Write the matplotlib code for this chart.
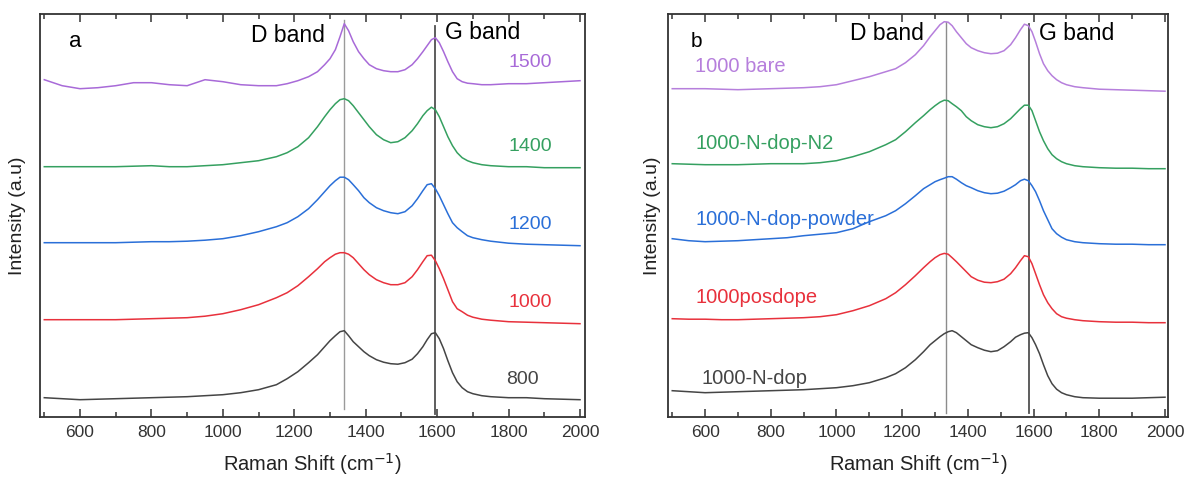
import matplotlib
matplotlib.use("Agg")
import matplotlib.pyplot as plt
from matplotlib.ticker import MultipleLocator

plt.rcParams["font.family"] = ["Liberation Sans", "DejaVu Sans"]

# Raman shift grid (cm^-1) shared by every spectrum
wavenumber = [500, 550, 600, 650, 700, 750, 800, 850, 900, 950, 1000, 1050, 1100,
              1150, 1180, 1210, 1240, 1265, 1285, 1300, 1315, 1328, 1340, 1352,
              1365, 1380, 1395, 1410, 1430, 1450, 1470, 1490, 1510, 1530, 1545,
              1560, 1572, 1584, 1595, 1606, 1618, 1630, 1643, 1656, 1670, 1685,
              1700, 1725, 1750, 1800, 1850, 1900, 1950, 2000]

# ---------------- panel a: annealing temperature series (offset, a.u.) ----------------
a_1500 = [337, 331, 328, 329, 331, 334, 334, 332, 331, 337, 335, 332, 331,
          331, 333, 336, 340, 345, 352, 358, 367, 380, 393, 386,
          375, 365, 358, 352, 348, 346, 345, 345, 347, 352, 358,
          365, 371, 377, 379, 374, 365, 355, 345, 338, 335, 333.5,
          333, 332, 332, 333, 333, 334, 335, 336]
a_1400 = [250, 250, 250, 250, 250, 250.5, 251, 250, 250, 251, 252, 254, 256,
          260, 264, 270, 279, 290, 300, 307, 313, 317, 318, 316,
          311, 304, 297, 290, 282, 277, 274, 275, 279, 286, 293,
          301, 306, 309.5, 307, 300, 290, 280, 271, 264, 259, 256,
          254, 252, 251, 250, 250, 249, 249, 249]
a_1200 = [174, 174, 174, 174, 174, 174.5, 175, 175, 175.5, 176.5, 178, 181, 185,
          190, 194, 200, 208, 217, 225, 231, 236, 239.5, 239.5, 237,
          232, 226, 219, 214, 209, 206, 204, 203, 205, 211, 218,
          226, 232, 233, 228, 221, 212, 203, 194, 189, 185, 181,
          179, 177, 175.5, 173.5, 172.5, 172, 171.5, 171]
a_1000 = [97, 97, 97, 97, 97, 97.5, 98, 98.5, 99, 100.5, 103, 107, 112,
          119, 124, 131, 140, 148, 155, 159, 162.5, 164, 164, 162.5,
          159, 153, 147, 142, 137, 134, 132, 132, 134, 140, 147,
          155, 161, 161.5, 156, 148, 138, 127, 115, 108, 105, 101.5,
          99.5, 97.5, 96.5, 95, 94.5, 94, 93.5, 93]
a_800 = [19, 18, 17, 17.5, 18, 18.5, 19, 19.5, 20, 21, 22, 24, 27,
         32, 38, 45, 54, 62, 70, 76, 81, 85, 86, 81,
         75, 70, 65, 61, 57, 54.5, 53, 52.5, 54, 57.5, 63,
         70, 77, 83, 84, 78, 68, 56, 44, 35, 29, 25,
         23, 21, 20, 19, 19, 18, 17.5, 17]

series_a = [a_1500, a_1400, a_1200, a_1000, a_800]
labels_a = ["1500", "1400", "1200", "1000", "800"]
colors_a = ["#a86ad8", "#35a060", "#2a6fd8", "#e8313c", "#454545"]
label_x_a = [1860, 1860, 1860, 1860, 1840]
label_y_a = [354, 270, 192, 114, 37]

d_band_a, g_band_a = 1340, 1595

# ---------------- panel b: doping series at 1000 (offset, a.u.) ----------------
b_bare = [328, 328, 328, 327.5, 327, 327.5, 328, 328.5, 329, 330, 332, 336, 340,
          345, 348, 354, 362, 371, 380, 386, 392, 395, 394.5, 391,
          385, 379, 373, 369, 366, 364, 363, 363.5, 366, 372, 379,
          387, 392.5, 391, 385, 375, 363, 353, 346, 341, 337, 334,
          332, 330, 329, 327.5, 327, 326.5, 326, 325.5]
b_n2 = [253, 252.5, 252, 252, 252, 252.5, 253, 253, 253, 254, 256, 260, 265,
        272, 277, 285, 294, 301, 307, 311, 314.5, 316.5, 316, 313,
        310, 306, 300, 296, 292, 290, 289, 290, 293, 298, 303,
        308, 311.5, 311.5, 306, 296, 285, 276, 268, 262, 258, 255,
        253, 251, 250, 249, 248.5, 248.5, 248, 248]
b_powder = [178, 176, 175, 175.5, 176, 177, 178, 179, 181, 182.5, 184, 188, 195,
            201, 206, 213, 221, 228, 232, 235, 237, 238.5, 240, 240,
            237.5, 234, 231, 229, 226, 224, 223, 223.5, 225.5, 229, 232,
            236, 237.5, 236, 231, 225, 216, 206, 197, 188, 183, 179.5,
            177, 175, 174, 173, 172.5, 172.5, 172, 172]
b_posdope = [98, 97.5, 97.5, 97, 97, 97.5, 98, 98.5, 99, 100, 102, 106, 111,
             118, 124, 132, 141, 149, 155, 159, 162, 163.3, 162.5, 159,
             155, 150, 145, 140, 136.5, 134.5, 134, 135, 137.5, 143, 149,
             156, 161, 160, 153, 143, 132, 122, 114, 108, 103, 100,
             98.5, 97, 96, 95, 94.5, 94.5, 94, 94]
b_ndop = [26, 25, 24, 24.5, 25, 25.5, 26, 26.5, 27, 28, 29, 31, 34,
          39, 43, 49, 57, 65, 72, 76, 80, 83, 85, 86,
          84, 80, 76, 72, 69, 66.5, 65, 66, 70, 75, 79.5,
          82, 83.5, 84, 79, 72, 63, 52, 41, 33, 27.5, 24,
          22, 20, 19, 18.5, 18.5, 18.5, 19, 19.5]

series_b = [b_bare, b_n2, b_powder, b_posdope, b_ndop]
labels_b = ["1000 bare", "1000-N-dop-N2", "1000-N-dop-powder", "1000posdope", "1000-N-dop"]
colors_b = ["#b67fdc", "#35a060", "#2a6fd8", "#e8313c", "#454545"]
label_x_b = [570, 570, 570, 570, 590]
label_y_b = [350, 273, 197, 119, 38]

d_band_b, g_band_b = 1332, 1586

# ---------------- figure ----------------
fig = plt.figure(figsize=(11.84, 4.78), dpi=100)
ax_a = fig.add_axes([40 / 1184, 61.3 / 478, 545 / 1184, 402.4 / 478])
ax_b = fig.add_axes([668.3 / 1184, 61.3 / 478, 500 / 1184, 402.4 / 478])


def style_axes(ax, xmax, ypad):
    ax.set_xlim(488, xmax)
    ax.set_ylim(0, 402.4)
    ax.xaxis.set_major_locator(MultipleLocator(200))
    ax.xaxis.set_minor_locator(MultipleLocator(100))
    ax.set_yticks([])
    ax.tick_params(axis="x", which="both", direction="in", top=True, bottom=True,
                   color="#333333", width=1.1)
    ax.tick_params(axis="x", which="major", length=6, labelsize=12.5,
                   labelcolor="#333333", pad=6)
    ax.tick_params(axis="x", which="minor", length=3.5)
    for sp in ax.spines.values():
        sp.set_color("#333333")
        sp.set_linewidth(1.3)
    ax.set_xlabel("Raman Shift (cm$^{-1}$)", fontsize=14.5, color="#222222", labelpad=8)
    ax.set_ylabel("Intensity (a.u)", fontsize=14, color="#222222", labelpad=ypad)


style_axes(ax_a, 2014, 10)
style_axes(ax_b, 2010, 5)

# band markers
ax_a.plot([d_band_a, d_band_a], [8, 397], color="#9a9a9a", lw=1.0, zorder=1)
ax_a.plot([g_band_a, g_band_a], [3, 391], color="#505050", lw=1.3, zorder=1)
ax_b.plot([d_band_b, d_band_b], [4, 395], color="#8c8c8c", lw=1.0, zorder=1)
ax_b.plot([g_band_b, g_band_b], [4, 393], color="#505050", lw=1.3, zorder=1)

for y, lab, c, lx, ly in zip(series_a, labels_a, colors_a, label_x_a, label_y_a):
    ax_a.plot(wavenumber, y, color=c, lw=1.1, zorder=2)
    ax_a.text(lx, ly, lab, color=c, fontsize=14, ha="center", va="center")

for y, lab, c, lx, ly in zip(series_b, labels_b, colors_b, label_x_b, label_y_b):
    ax_b.plot(wavenumber, y, color=c, lw=1.1, zorder=2)
    ax_b.text(lx, ly, lab, color=c, fontsize=14.5, ha="left", va="center")

ax_a.text(586, 375, "a", fontsize=16, ha="center", va="center")
ax_a.text(1181, 381, "D band", fontsize=16.5, ha="center", va="center")
ax_a.text(1726, 384, "G band", fontsize=16.5, ha="center", va="center")

ax_b.text(575, 375, "b", fontsize=15, ha="center", va="center")
ax_b.text(1154, 383, "D band", fontsize=16.5, ha="center", va="center")
ax_b.text(1732, 383, "G band", fontsize=16.5, ha="center", va="center")

fig.savefig("out.png", dpi=100, facecolor="white")
